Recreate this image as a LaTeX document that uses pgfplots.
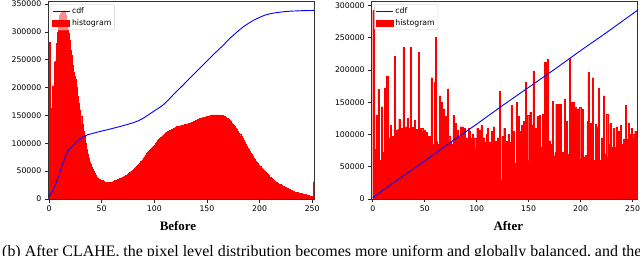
\documentclass[border=0pt]{standalone}
\usepackage{fontspec}
\setmainfont{DejaVu Sans}
\newfontfamily\capfont{Liberation Serif}
\usepackage{pgfplots}
\pgfplotsset{compat=1.18}

\pgfplotsset{
  histax/.style={
    scale only axis, height=198bp,
    ymin=0, tick pos=left, tick align=outside,
    major tick length=3.5bp,
    every tick/.style={black!85, line width=0.6bp},
    axis line style={black!80, line width=0.8bp},
    ticklabel style={font=\fontsize{7.8}{9}\selectfont},
    xtick={0,50,...,250},
    scaled y ticks=false,
    /pgf/number format/fixed, /pgf/number format/1000 sep={},
    /pgf/number format/assume math mode=true,
    legend style={at={(0,1)}, anchor=north west, xshift=2.4bp, yshift=-3bp,
      draw=black!20, rounded corners=2bp, fill=white, fill opacity=0.55, text opacity=1,
      font=\fontsize{7.8}{9}\selectfont, inner sep=1.2bp, row sep=0.5bp},
    legend cell align=left,
  }
}

\begin{document}
\begin{tikzpicture}
\useasboundingbox (0,0) rectangle (640bp,256bp);

\begin{axis}[histax, at={(48.3bp,57bp)}, anchor=south west, width=265.7bp,
  xmin=-0.7, xmax=251.7, ymax=355400,
  ytick={0,50000,...,350000}]
\addlegendimage{blue, line width=0.9bp, sharp corners}\addlegendentry{cdf}
\addlegendimage{area legend, fill=red, draw=red, line width=0.2bp, fill opacity=1, draw opacity=1, sharp corners}\addlegendentry{histogram}
\addplot[ybar interval, fill=red, draw=red, line width=0.25bp, forget plot] coordinates {
(0,282000)(1,118000)(2,163000)(3,203000)(4,203000)(5,245000)(6,248000)(7,280000)(8,300000)(9,318000)
(10,330000)(11,334000)(12,338000)(13,336000)(14,338000)(15,330000)(16,315000)(17,305000)(18,298000)(19,285000)
(20,267000)(21,258000)(22,240000)(23,228000)(24,220000)(25,215000)(26,200000)(27,185000)(28,172000)(29,160000)
(30,148000)(31,135000)(32,122000)(33,112000)(34,100000)(35,90000)(36,80000)(37,73000)(38,67000)(39,62000)
(40,58000)(41,54000)(42,50000)(43,46000)(44,43000)(45,40000)(46,38000)(47,36000)(48,35000)(49,34000)
(50,33000)(51,32000)(52,31000)(53,30500)(54,30000)(55,30000)(56,30000)(57,30000)(58,30000)(59,30500)
(60,31000)(61,32000)(62,33000)(63,33500)(64,34000)(65,35000)(66,36000)(67,37000)(68,38000)(69,39000)
(70,40000)(71,41000)(72,42000)(73,43000)(74,44500)(75,46000)(76,47500)(77,49000)(78,50500)(79,52000)
(80,53500)(81,55000)(82,57000)(83,59000)(84,61000)(85,63000)(86,65000)(87,67500)(88,70000)(89,73000)
(90,76000)(91,79000)(92,82000)(93,84000)(94,86000)(95,88000)(96,90000)(97,92000)(98,94000)(99,95000)
(100,97000)(101,100000)(102,102000)(103,105000)(104,107000)(105,109000)(106,111000)(107,113000)(108,115000)(109,117000)
(110,119000)(111,120000)(112,121000)(113,122000)(114,123000)(115,124000)(116,125000)(117,126000)(118,127000)(119,128000)
(120,129000)(121,130000)(122,130500)(123,131000)(124,131500)(125,132000)(126,132500)(127,133000)(128,133500)(129,134000)
(130,134500)(131,135000)(132,135500)(133,136000)(134,137000)(135,137500)(136,138000)(137,139000)(138,140000)(139,141000)
(140,142000)(141,143000)(142,144000)(143,145000)(144,145500)(145,146000)(146,146500)(147,147000)(148,147500)(149,148000)
(150,148500)(151,149000)(152,149500)(153,150000)(154,150500)(155,151000)(156,151000)(157,151000)(158,151000)(159,151000)
(160,151000)(161,151000)(162,151000)(163,150500)(164,150000)(165,149000)(166,148000)(167,147000)(168,146000)(169,144500)
(170,143000)(171,141000)(172,139000)(173,137000)(174,135000)(175,132500)(176,130000)(177,127500)(178,125000)(179,122000)
(180,119000)(181,116000)(182,113000)(183,110000)(184,106000)(185,102000)(186,98000)(187,95000)(188,92000)(189,89000)
(190,86000)(191,83000)(192,80000)(193,77000)(194,74000)(195,71000)(196,68500)(197,66000)(198,63500)(199,61000)
(200,58500)(201,56000)(202,54000)(203,52000)(204,50000)(205,48000)(206,46000)(207,44000)(208,42000)(209,40000)
(210,38500)(211,37000)(212,35500)(213,34000)(214,32500)(215,31000)(216,29500)(217,28000)(218,27000)(219,26000)
(220,25000)(221,24000)(222,23000)(223,22000)(224,21000)(225,20000)(226,19000)(227,18000)(228,17000)(229,16000)
(230,15500)(231,14500)(232,13500)(233,13000)(234,12500)(235,12000)(236,11500)(237,11000)(238,10500)(239,10000)
(240,9500)(241,9000)(242,8500)(243,8000)(244,7500)(245,7000)(246,6500)(247,6000)(248,5500)(249,5000)
(250,4500)(251,31000)(252,0)
};
\addplot[blue, line width=0.9bp, forget plot] coordinates {
(0,4000)(3,13000)(5,21000)(7.3,31000)(10,46000)(12,58000)(14.5,71000)(16.8,82000)(19,89000)(21.6,94000)
(24,99000)(26.3,103000)(29.5,108000)(32.6,112000)(37,115500)(42,118000)(48,121000)(54.6,124000)(61,127000)
(67.3,130000)(74,133500)(80,137000)(85,140500)(89.5,145000)(94,150500)(99,157000)(104,163000)(108.5,169000)
(113,177000)(118,187000)(122.5,195500)(127.6,205000)(132,213500)(137,223000)(141.5,231500)(146.5,241000)
(151,249500)(156,259000)(160.5,267000)(165.5,276000)(170,285000)(175,294000)(180,302000)(184.5,309000)
(190,316000)(195,321500)(200,326000)(205,330000)(210,332500)(215,334200)(220,335500)(225,336500)
(230,337200)(240,338000)(251.7,338500)
};
\end{axis}

\begin{axis}[histax, at={(371.7bp,57bp)}, anchor=south west, width=266.1bp,
  xmin=-1, xmax=255, ymax=306800,
  ytick={0,50000,...,300000}]
\addlegendimage{blue, line width=0.9bp, sharp corners}\addlegendentry{cdf}
\addlegendimage{area legend, fill=red, draw=red, line width=0.2bp, fill opacity=1, draw opacity=1, sharp corners}\addlegendentry{histogram}
\addplot[ybar interval, fill=red, draw=red, line width=0.25bp, forget plot] coordinates {
(0,292000)(1,77000)(2,0)(3,130000)(4,55000)(5,170000)(6,57000)(7,60000)(8,143000)(9,65000)
(10,72000)(11,172000)(12,77000)(13,191000)(14,190000)(15,88000)(16,95000)(17,114000)(18,93000)(19,97000)
(20,0)(21,221000)(22,106000)(23,107000)(24,108000)(25,124000)(26,108000)(27,110000)(28,0)(29,235000)
(30,112000)(31,110000)(32,112000)(33,125000)(34,110000)(35,0)(36,235000)(37,112000)(38,110000)(39,112000)
(40,122000)(41,108000)(42,108000)(43,0)(44,227000)(45,100000)(46,110000)(47,110000)(48,105000)(49,107000)
(50,103000)(51,103000)(52,98000)(53,95000)(54,97000)(55,95000)(56,188000)(57,85000)(58,75000)(59,181000)
(60,251000)(61,90000)(62,85000)(63,75000)(64,160000)(65,95000)(66,150000)(67,65000)(68,140000)(69,58000)
(70,128000)(71,55000)(72,171000)(73,98000)(74,90000)(75,85000)(76,80000)(77,130000)(78,88000)(79,117000)
(80,62000)(81,107000)(82,88000)(83,96000)(84,112000)(85,90000)(86,112000)(87,95000)(88,110000)(89,93000)
(90,95000)(91,90000)(92,110000)(93,105000)(94,95000)(95,93000)(96,100000)(97,80000)(98,95000)(99,78000)
(100,110000)(101,80000)(102,107000)(103,85000)(104,115000)(105,80000)(106,95000)(107,88000)(108,70000)(109,100000)
(110,110000)(111,85000)(112,88000)(113,55000)(114,105000)(115,85000)(116,112000)(117,80000)(118,90000)(119,62000)
(120,95000)(121,55000)(122,167000)(123,30000)(124,97000)(125,75000)(126,110000)(127,68000)(128,90000)(129,60000)
(130,100000)(131,70000)(132,88000)(133,145000)(134,65000)(135,105000)(136,55000)(137,48000)(138,150000)(139,62000)
(140,128000)(141,105000)(142,55000)(143,115000)(144,56000)(145,120000)(146,60000)(147,181000)(148,55000)(149,130000)
(150,60000)(151,135000)(152,58000)(153,115000)(154,198000)(155,70000)(156,110000)(157,75000)(158,128000)(159,75000)
(160,130000)(161,80000)(162,75000)(163,132000)(164,100000)(165,212000)(166,212000)(167,110000)(168,216000)(169,65000)
(170,90000)(171,85000)(172,70000)(173,151000)(174,66000)(175,72000)(176,147000)(177,72000)(178,147000)(179,72000)
(180,147000)(181,72000)(182,73000)(183,70000)(184,155000)(185,76000)(186,120000)(187,0)(188,70000)(189,218000)
(190,66000)(191,150000)(192,70000)(193,150000)(194,70000)(195,142000)(196,68000)(197,140000)(198,65000)(199,142000)
(200,62000)(201,140000)(202,62000)(203,65000)(204,68000)(205,60000)(206,120000)(207,196000)(208,0)(209,117000)
(210,56000)(211,188000)(212,60000)(213,54000)(214,116000)(215,52000)(216,112000)(217,172000)(218,50000)(219,60000)
(220,95000)(221,90000)(222,160000)(223,70000)(224,52000)(225,132000)(226,65000)(227,85000)(228,117000)(229,80000)
(230,75000)(231,110000)(232,80000)(233,68000)(234,112000)(235,90000)(236,105000)(237,85000)(238,115000)(239,85000)
(240,80000)(241,92000)(242,75000)(243,145000)(244,90000)(245,92000)(246,117000)(247,100000)(248,90000)(249,110000)
(250,100000)(251,95000)(252,105000)(253,95000)(254,95000)(255,0)
};
\addplot[blue, line width=0.9bp, forget plot] coordinates {
(0,2000)(25,31000)(50,59000)(75,88000)(100,116000)(125,145000)(150,173000)(175,201000)(200,230000)(225,258000)(255,292800)
};
\end{axis}

\node[anchor=base] at (178bp,26bp) {\capfont\bfseries\fontsize{13}{15}\selectfont Before};
\node[anchor=base] at (508.3bp,26bp) {\capfont\bfseries\fontsize{13}{15}\selectfont After};
\node[anchor=base west, inner sep=0pt] at (2bp,0bp) {\capfont\fontsize{16}{18}\selectfont (b) After CLAHE, the pixel level distribution becomes more uniform and globally balanced, and the contrast};
\end{tikzpicture}
\end{document}
